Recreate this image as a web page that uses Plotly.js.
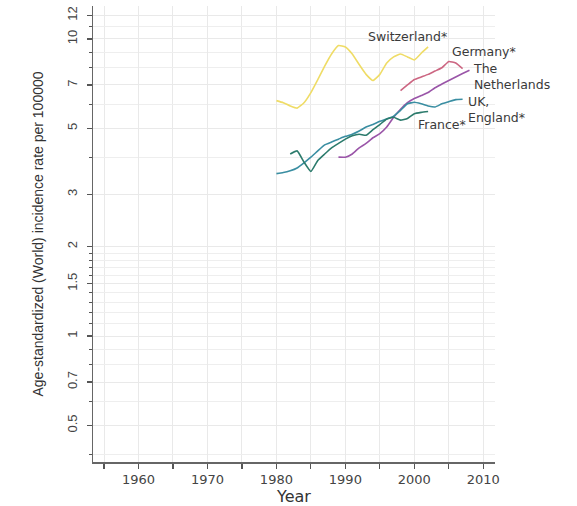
<!DOCTYPE html>
<html>
<head>
<meta charset="utf-8">
<script src="https://cdn.plot.ly/plotly-3.0.1.min.js"></script>
<style>
html,body{margin:0;padding:0;background:#fff;}
#chart{width:577px;height:506px;}
</style>
</head>
<body>
<div id="chart"></div>
<script>
// ---- data ----
const switzerlandYears = [1980,1981,1982,1983,1984,1985,1986,1987,1988,1989,1990,1991,1992,1993,1994,1995,1996,1997,1998,1999,2000,2001,2002];
const switzerlandRates = [6.2,6.1,5.95,5.85,6.1,6.6,7.3,8.1,8.9,9.5,9.4,8.9,8.2,7.6,7.25,7.6,8.3,8.7,8.9,8.7,8.5,8.95,9.4];

const germanyYears = [1998,1999,2000,2001,2002,2003,2004,2005,2006,2007];
const germanyRates = [6.7,7.0,7.3,7.45,7.6,7.8,8.0,8.4,8.3,7.95];

const netherlandsYears = [1989,1990,1991,1992,1993,1994,1995,1996,1997,1998,1999,2000,2001,2002,2003,2004,2005,2006,2007,2008];
const netherlandsRates = [4.0,4.0,4.1,4.3,4.45,4.65,4.8,5.05,5.45,5.8,6.1,6.3,6.45,6.6,6.85,7.05,7.25,7.45,7.65,7.85];

const ukYears = [1980,1981,1982,1983,1984,1985,1986,1987,1988,1989,1990,1991,1992,1993,1994,1995,1996,1997,1998,1999,2000,2001,2002,2003,2004,2005,2006,2007];
const ukRates = [3.52,3.55,3.6,3.68,3.83,4.0,4.2,4.4,4.5,4.6,4.7,4.78,4.9,5.05,5.15,5.28,5.38,5.5,5.75,6.05,6.12,6.05,5.95,5.9,6.05,6.15,6.25,6.27];

const franceYears = [1982,1983,1984,1985,1986,1987,1988,1989,1990,1991,1992,1993,1994,1995,1996,1997,1998,1999,2000,2001,2002];
const franceRates = [4.1,4.2,3.85,3.58,3.9,4.1,4.3,4.45,4.6,4.72,4.78,4.74,4.95,5.15,5.38,5.45,5.33,5.4,5.6,5.66,5.7];

const yTickVals = [0.5,0.7,1,1.5,2,3,5,7,10,12];
const yTickText = ['0.5','0.7','1','1.5','2','3','5','7','10','12'];
const yMinorVals = [0.4,0.6,0.8,0.9,1.1,1.2,1.3,1.4,1.6,1.7,1.8,1.9,4,6,8,9,11];
const xTickVals = [1960,1970,1980,1990,2000,2010];
const xTickText = ['1960','1970','1980','1990','2000','2010'];

// label positions: [text, year, rate]
const labels = [
  ['Switzerland*', 1993.1, 10.18],
  ['Germany*', 2005.3, 9.04],
  ['The<br>Netherlands', 2008.4, 7.48],
  ['UK,<br>England*', 2007.7, 5.81],
  ['France*', 2000.4, 5.17]
];

const colors = {
  sw: '#efdc66',
  de: '#cc6682',
  nl: '#9a55a8',
  uk: '#3a8ea2',
  fr: '#2c7b6c'
};

function line(x, y, c, name){
  return {x:x, y:y, type:'scatter', mode:'lines', name:name,
          line:{color:c, width:1.6, shape:'spline', smoothing:0.4}, hoverinfo:'skip'};
}

const data = [
  line(switzerlandYears, switzerlandRates, colors.sw, 'Switzerland*'),
  line(germanyYears, germanyRates, colors.de, 'Germany*'),
  line(netherlandsYears, netherlandsRates, colors.nl, 'The Netherlands'),
  line(ukYears, ukRates, colors.uk, 'UK, England*'),
  line(franceYears, franceRates, colors.fr, 'France*')
];

const annFont = {family:'DejaVu Sans, sans-serif', size:12.5, color:'#3a3a3a'};
const annotations = labels.map(l => ({
  text:l[0], x:l[1], y:Math.log10(l[2]), xref:'x', yref:'y',
  xanchor:'left', yanchor:'middle', align:'left', showarrow:false, borderpad:0, font:annFont
}));

const layout = {
  width:577, height:506,
  margin:{l:93, r:82, t:6, b:44},
  paper_bgcolor:'#ffffff', plot_bgcolor:'#ffffff',
  showlegend:false,
  xaxis:{
    range:[1953.4, 2011.7],
    tickmode:'array', tickvals:xTickVals, ticktext:xTickText,
    ticks:'outside', ticklen:5, tickwidth:1.2, tickcolor:'#555',
    showline:true, linecolor:'#666', linewidth:1.5,
    showgrid:true, gridcolor:'#e9e9e9', gridwidth:1,
    zeroline:false,
    minor:{dtick:5, tick0:1955, ticks:'outside', ticklen:5, tickwidth:1.2, tickcolor:'#555', showgrid:true, gridcolor:'#e9e9e9'},
    tickfont:{family:'DejaVu Sans, sans-serif', size:13, color:'#444'},
    title:{text:'Year', font:{family:'DejaVu Sans, sans-serif', size:16, color:'#333'}, standoff:0}
  },
  yaxis:{
    type:'log',
    range:[-0.4242, 1.111],
    tickmode:'array', tickvals:yTickVals, ticktext:yTickText,
    tickangle:-90,
    ticks:'outside', ticklen:5, tickwidth:1.2, tickcolor:'#555',
    showline:true, linecolor:'#666', linewidth:1.5,
    showgrid:true, gridcolor:'#e9e9e9', gridwidth:1,
    zeroline:false,
    minor:{tickmode:'array', tickvals:yMinorVals, ticks:'outside', ticklen:3, tickwidth:1, tickcolor:'#555', showgrid:true, gridcolor:'#eeeeee'},
    tickfont:{family:'Liberation Sans, Arial, sans-serif', size:13, color:'#444'},
    ticklabelstandoff:4,
    title:{text:'Age-standardized (World) incidence rate per 100000', font:{family:'Liberation Sans, Arial, sans-serif', size:14, color:'#333'}, standoff:18}
  },
  annotations:annotations
};

Plotly.newPlot('chart', data, layout, {displayModeBar:false, staticPlot:true});
</script>
</body>
</html>
